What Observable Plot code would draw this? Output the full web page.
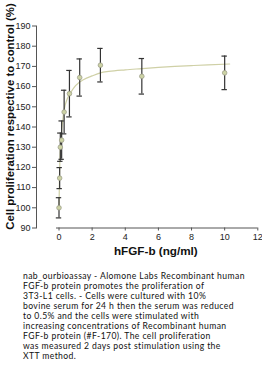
<!DOCTYPE html>
<html>
<head>
<meta charset="utf-8">
<script src="https://cdn.jsdelivr.net/npm/d3@7"></script>
<script src="https://cdn.jsdelivr.net/npm/@observablehq/plot@0.6"></script>
<style>
  html, body { margin: 0; padding: 0; background: #fff; }
  #cap { font-family: Lato, "Open Sans", sans-serif; font-size: 8.6px; letter-spacing: 0.4px; line-height: 10px; color: #111; padding-left: 23px; margin-top: 1px; white-space: nowrap; }
  svg { display: block; }
</style>
</head>
<body>
<div id="chart"></div>
<div id="cap"></div>
<script>
// Measured points (hFGF-b dose, % of control, error)
const doses = [0, 0.04, 0.08, 0.16, 0.31, 0.63, 1.25, 2.5, 5, 10];
const means = [100, 114.7, 130, 133.5, 147.4, 156.5, 164.5, 170.6, 165.1, 166.8];
const errs  = [5, 5.2, 7, 9.5, 10.8, 11.5, 9.2, 8.3, 8.8, 8.3];

// Fitted curve
const fitX = [0, 0.03, 0.08, 0.16, 0.3, 0.5, 0.7, 1.0, 1.5, 2.0, 2.5, 3, 4, 5, 6, 7, 8, 9, 10.3];
const fitY = [100, 115, 130, 138, 148, 154, 157, 160.5, 163.5, 165.3, 166.8, 167.5, 168.3, 168.9, 169.5, 170, 170.4, 170.8, 171.2];

const xTicks = [0, 2, 4, 6, 8, 10, 12];
const yTicks = [90, 100, 110, 120, 130, 140, 150, 160, 170, 180, 190];

const xTitle = "hFGF-b (ng/ml)";
const yTitle = "Cell proliferation respective to control (%)";
const captionLines = [
  "nab_ourbioassay - Alomone Labs Recombinant human",
  "FGF-b protein promotes the proliferation of",
  "3T3-L1 cells. - Cells were cultured with 10%",
  "bovine serum for 24 h then the serum was reduced",
  "to 0.5% and the cells were stimulated with",
  "increasing concentrations of Recombinant human",
  "FGF-b protein (#F-170). The cell proliferation",
  "was measured 2 days post stimulation using the",
  "XTT method."
];

const pts = doses.map((d, i) => ({x: d, y: means[i], lo: means[i] - errs[i], hi: means[i] + errs[i]}));
const fit = fitX.map((x, i) => ({x, y: fitY[i]}));

const W = 262, H = 270;
const chart = Plot.plot({
  width: W,
  height: H,
  marginLeft: 36,
  marginRight: 4.7,
  marginTop: 25.5,
  marginBottom: 42.5,
  style: {fontFamily: "Arial, 'Liberation Sans', sans-serif", fontSize: "9px", color: "#222", background: "#fff"},
  x: {domain: [0, 12], range: [58.5, 257.3], ticks: xTicks, tickSize: 3, tickPadding: 3, label: null},
  y: {domain: [90, 190], range: [227.5, 25.5], ticks: yTicks, tickSize: 4, tickPadding: 2, label: null},
  marks: [
    Plot.frame({anchor: "left", stroke: "#555"}),
    Plot.ruleY([90], {x1: -0.15, x2: 12, stroke: "#555"}),
    Plot.axisX({ticks: xTicks, tickSize: 3, tickPadding: 3, stroke: "#555"}),
    Plot.axisY({ticks: yTicks, tickSize: 4, tickPadding: 2, stroke: "#555"}),
    Plot.line(fit, {x: "x", y: "y", stroke: "#cfd0a6", strokeWidth: 1.2, curve: "monotone-x"}),
    Plot.ruleX(pts, {x: "x", y1: "lo", y2: "hi", stroke: "#333", strokeWidth: 1.2}),
    Plot.ruleY(pts, {y: "hi", x1: "x", x2: "x", insetLeft: -2.7, insetRight: -2.7, stroke: "#333", strokeWidth: 1.2}),
    Plot.ruleY(pts, {y: "lo", x1: "x", x2: "x", insetLeft: -2.7, insetRight: -2.7, stroke: "#333", strokeWidth: 1.2}),
    Plot.dot(pts, {x: "x", y: "y", r: 2.3, fill: "#cdd3a4", stroke: "#9ea08a", strokeWidth: 0.8}),
    Plot.text([xTitle], {frameAnchor: "bottom", textAnchor: "middle", dx: 8.7, dy: 27, fontWeight: "bold", fontSize: 11.7, fill: "#111"}),
    Plot.text([yTitle], {frameAnchor: "left", textAnchor: "middle", rotate: -90, dx: -26, dy: -10.5, fontWeight: "bold", fontSize: 11.4, fill: "#111"})
  ]
});
document.getElementById("chart").appendChild(chart);
document.getElementById("cap").innerHTML = captionLines.map(s => s.replace(/&/g, "&amp;").replace(/</g, "&lt;")).join("<br>");
</script>
</body>
</html>
